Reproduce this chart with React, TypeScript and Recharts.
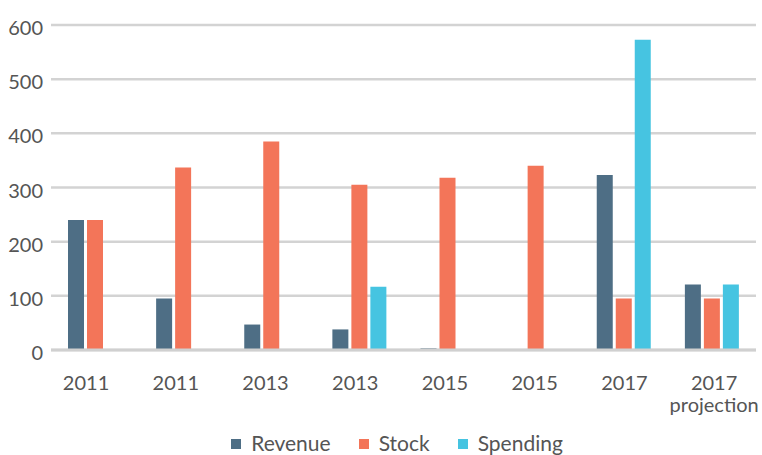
import { BarChart, Bar, XAxis, YAxis, CartesianGrid, Legend } from 'recharts';

const categories = ['2011', '2011', '2013', '2013', '2015', '2015', '2017', '2017\nprojection'];
const revenue = [240, 95, 47, 38, 3, 0, 323, 121];
const stock = [240, 337, 385, 305, 318, 340, 95, 95];
const spending = [0, 0, 0, 117, 0, 0, 573, 121];
const yTicks = [0, 100, 200, 300, 400, 500, 600];
const seriesOrder = ['Revenue', 'Stock', 'Spending'];

const data = categories.map((label, i) => ({
  label,
  Revenue: revenue[i],
  Stock: stock[i],
  Spending: spending[i],
}));

const FONT = 'Lato, "Open Sans", sans-serif';
const TEXT = '#555555';

function XTick(props: any) {
  const { x, y, payload, index } = props;
  const lines = String(payload.value).split('\n');
  const shift = -9 + index * 1.6;
  return (
    <text x={x + shift} y={y + 40} textAnchor="middle" fill={TEXT} fontSize={20} fontFamily={FONT}>
      {lines.map((line, i) => (
        <tspan key={i} x={x + shift} dy={i === 0 ? 0 : 22}>
          {line}
        </tspan>
      ))}
    </text>
  );
}

function LegendContent(props: any) {
  const items = [...(props.payload || [])].sort(
    (a: any, b: any) => seriesOrder.indexOf(a.value) - seriesOrder.indexOf(b.value)
  );
  return (
    <div
      style={{
        display: 'flex',
        justifyContent: 'center',
        paddingLeft: 60,
        height: 24,
        lineHeight: '24px',
        fontSize: 21,
        fontFamily: FONT,
        color: TEXT,
      }}
    >
      {items.map((item: any) => (
        <div key={item.value} style={{ display: 'flex', alignItems: 'center', marginRight: 28 }}>
          <span style={{ width: 10, height: 10, background: item.color, marginRight: 10, marginTop: 2 }} />
          <span>{item.value}</span>
        </div>
      ))}
    </div>
  );
}

export default function App() {
  return (
    <div style={{ position: 'absolute', left: 0, top: 0, width: 762, height: 455, background: '#fff' }}>
      <BarChart
        width={762}
        height={455}
        data={data}
        margin={{ top: 25, right: 6, left: 0, bottom: 0 }}
        barSize={16}
        barGap={3}
      >
        <CartesianGrid vertical={false} stroke="#d3d3d3" strokeWidth={2.5} />
        <XAxis
          dataKey="label"
          height={81}
          tickSize={0}
          tickMargin={0}
          axisLine={{ stroke: '#d0d0d0', strokeWidth: 3 }}
          tickLine={false}
          tick={<XTick />}
          interval={0}
        />
        <YAxis
          width={51}
          domain={[0, 600]}
          ticks={yTicks}
          tickSize={0}
          tickMargin={8}
          axisLine={false}
          tickLine={false}
          tick={{ fill: TEXT, fontSize: 20, fontFamily: FONT, dy: 3 }}
        />
        <Legend
          verticalAlign="bottom"
          content={<LegendContent />}
          wrapperStyle={{ left: 0, width: 762, bottom: 0 }}
        />
        <Bar dataKey="Revenue" fill="#4e6e85" isAnimationActive={false} />
        <Bar dataKey="Stock" fill="#f37559" isAnimationActive={false} />
        <Bar dataKey="Spending" fill="#46c4e1" isAnimationActive={false} />
      </BarChart>
    </div>
  );
}
